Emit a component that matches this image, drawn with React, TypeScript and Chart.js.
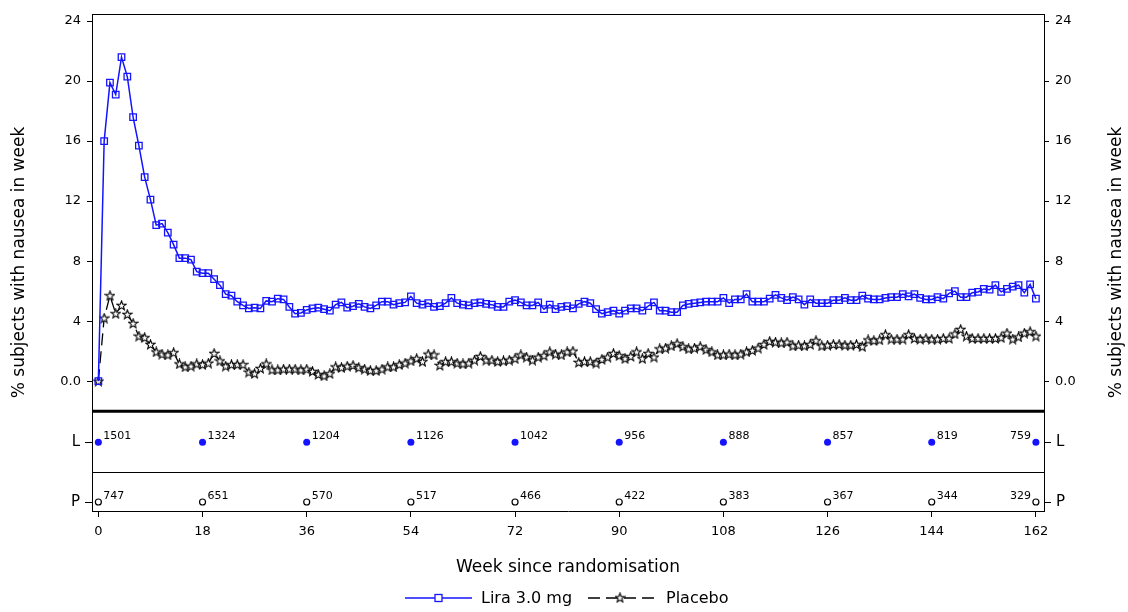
import React, { useEffect, useRef } from 'react';
import { Chart, registerables } from 'chart.js';

Chart.register(...registerables);

// ---- data ----
const liraPct = [
  0, 16.0, 19.9, 19.1, 21.6, 20.3, 17.6, 15.7, 13.6, 12.1,
  10.4, 10.5, 9.9, 9.1, 8.2, 8.2, 8.1, 7.3, 7.2, 7.2,
  6.8, 6.4, 5.8, 5.7, 5.3, 5.05, 4.85, 4.9, 4.85, 5.35,
  5.3, 5.5, 5.45, 4.95, 4.5, 4.55, 4.75, 4.85, 4.9, 4.8,
  4.7, 5.1, 5.25, 4.9, 5.0, 5.15, 4.95, 4.85, 5.05, 5.3,
  5.3, 5.1, 5.2, 5.25, 5.65, 5.2, 5.1, 5.2, 4.95, 5.0,
  5.2, 5.55, 5.2, 5.1, 5.05, 5.2, 5.25, 5.15, 5.1, 4.95,
  4.95, 5.3, 5.4, 5.25, 5.05, 5.05, 5.25, 4.8, 5.1, 4.8,
  4.95, 5.0, 4.85, 5.15, 5.3, 5.2, 4.8, 4.5, 4.6, 4.7,
  4.5, 4.7, 4.85, 4.85, 4.7, 5.0, 5.25, 4.7, 4.7, 4.6,
  4.6, 5.05, 5.15, 5.2, 5.25, 5.3, 5.3, 5.3, 5.55, 5.2,
  5.45, 5.45, 5.8, 5.3, 5.3, 5.3, 5.5, 5.75, 5.55, 5.4,
  5.6, 5.45, 5.1, 5.45, 5.2, 5.2, 5.2, 5.4, 5.4, 5.55,
  5.4, 5.4, 5.7, 5.5, 5.45, 5.45, 5.55, 5.6, 5.6, 5.8,
  5.65, 5.8, 5.55, 5.45, 5.45, 5.6, 5.5, 5.85, 6.0, 5.6,
  5.6, 5.9, 5.95, 6.15, 6.1, 6.4, 5.95, 6.15, 6.3, 6.4,
  5.9, 6.45, 5.5,
];

const placeboPct = [
  0, 4.2, 5.7, 4.5, 5.05, 4.45, 3.85, 3.0, 2.9, 2.45,
  1.95, 1.8, 1.75, 1.9, 1.15, 0.95, 1.0, 1.15, 1.1, 1.2,
  1.85, 1.35, 1.0, 1.1, 1.1, 1.1, 0.6, 0.5, 0.85, 1.15,
  0.75, 0.75, 0.8, 0.8, 0.8, 0.75, 0.8, 0.65, 0.45, 0.35,
  0.5, 0.95, 0.9, 1.0, 1.05, 0.9, 0.8, 0.7, 0.7, 0.8,
  0.95, 0.95, 1.1, 1.2, 1.35, 1.5, 1.3, 1.8, 1.75, 1.05,
  1.3, 1.3, 1.2, 1.15, 1.2, 1.4, 1.65, 1.4, 1.4, 1.3,
  1.35, 1.4, 1.5, 1.75, 1.6, 1.4, 1.6, 1.7, 1.95, 1.8,
  1.75, 1.95, 2.0, 1.25, 1.3, 1.3, 1.2, 1.45, 1.6, 1.85,
  1.7, 1.5, 1.65, 1.95, 1.5, 1.85, 1.6, 2.15, 2.2, 2.35,
  2.5, 2.3, 2.15, 2.2, 2.3, 2.1, 1.95, 1.75, 1.75, 1.8,
  1.75, 1.8, 1.95, 2.05, 2.2, 2.45, 2.65, 2.6, 2.55, 2.6,
  2.35, 2.4, 2.35, 2.45, 2.7, 2.35, 2.4, 2.45, 2.45, 2.4,
  2.4, 2.45, 2.3, 2.75, 2.7, 2.75, 3.1, 2.8, 2.8, 2.8,
  3.1, 2.85, 2.8, 2.85, 2.8, 2.8, 2.85, 2.85, 3.15, 3.45,
  3.0, 2.85, 2.85, 2.85, 2.85, 2.85, 2.9, 3.2, 2.8, 2.95,
  3.2, 3.3, 3.0,
];

const riskWeeks = [0, 18, 36, 54, 72, 90, 108, 126, 144, 162];
const liraAtRisk = [1501, 1324, 1204, 1126, 1042, 956, 888, 857, 819, 759];
const placeboAtRisk = [747, 651, 570, 517, 466, 422, 383, 367, 344, 329];
const xTickValues = [0, 18, 36, 54, 72, 90, 108, 126, 144, 162];
const yTickValues = [0, 4, 8, 12, 16, 20, 24];
const seriesNames = ['Lira 3.0 mg', 'Placebo'];
const riskRowLabels = ['L', 'P'];
const xTitle = 'Week since randomisation';
const yTitle = '% subjects with nausea in week';

// ---- style constants ----
const FONT = "'DejaVu Sans', sans-serif";
const BLUE = 'rgb(20,20,255)';
const BLACK = '#000';
const ROW_L = 69;
const ROW_P = 9;
const ROW_SEP = 39;

function makeStar(): HTMLCanvasElement {
  const c = document.createElement('canvas');
  c.width = 11;
  c.height = 11;
  const ctx = c.getContext('2d')!;
  const cx = 5.5, cy = 5.8, ro = 4.8, ri = 2.0;
  ctx.beginPath();
  for (let k = 0; k < 10; k++) {
    const r = k % 2 === 0 ? ro : ri;
    const a = -Math.PI / 2 + (k * Math.PI) / 5;
    const px = cx + r * Math.cos(a);
    const py = cy + r * Math.sin(a);
    if (k === 0) ctx.moveTo(px, py);
    else ctx.lineTo(px, py);
  }
  ctx.closePath();
  ctx.fillStyle = '#fff';
  ctx.fill();
  ctx.strokeStyle = BLACK;
  ctx.lineWidth = 1.1;
  ctx.stroke();
  return c;
}

export default function App() {
  const ref = useRef<HTMLCanvasElement>(null);

  useEffect(() => {
    const canvas = ref.current!;
    const star = makeStar();

    const decor = {
      id: 'decor',
      afterDraw(chart: any) {
        const ctx = chart.ctx as CanvasRenderingContext2D;
        const { left, right, top, bottom } = chart.chartArea;
        const sY = chart.scales.y;
        const sR = chart.scales.yRisk;
        const sX = chart.scales.x;
        ctx.save();
        ctx.strokeStyle = '#000';
        ctx.lineWidth = 1;
        ctx.beginPath();
        ctx.moveTo(left, top + 0.5);
        ctx.lineTo(right, top + 0.5);
        ctx.stroke();
        ctx.lineWidth = 3;
        ctx.beginPath();
        ctx.moveTo(left, sY.bottom);
        ctx.lineTo(right, sY.bottom);
        ctx.stroke();
        ctx.lineWidth = 1;
        const ySep = Math.round(sR.getPixelForValue(ROW_SEP)) + 0.5;
        ctx.beginPath();
        ctx.moveTo(left, ySep);
        ctx.lineTo(right, ySep);
        ctx.stroke();

        ctx.fillStyle = '#000';
        ctx.font = `11px ${FONT}`;
        ctx.textBaseline = 'alphabetic';
        const rows = [
          { vals: liraAtRisk, row: ROW_L },
          { vals: placeboAtRisk, row: ROW_P },
        ];
        rows.forEach(({ vals, row }) => {
          const py = sR.getPixelForValue(row);
          riskWeeks.forEach((w, i) => {
            const px = sX.getPixelForValue(w);
            const last = i === riskWeeks.length - 1;
            ctx.textAlign = last ? 'right' : 'left';
            ctx.fillText(String(vals[i]), last ? px - 5 : px + 5, py - 3);
          });
        });

        ctx.font = `17px ${FONT}`;
        ctx.textAlign = 'center';
        ctx.textBaseline = 'middle';
        const midY = (top + bottom) / 2;
        [20, 1117].forEach((tx) => {
          ctx.save();
          ctx.translate(tx, midY);
          ctx.rotate(-Math.PI / 2);
          ctx.fillText(yTitle, 0, 0);
          ctx.restore();
        });
        ctx.fillText(xTitle, (left + right) / 2, 568);

        const ly = 598;
        ctx.font = `16px ${FONT}`;
        ctx.textAlign = 'left';
        ctx.textBaseline = 'middle';
        ctx.strokeStyle = BLUE;
        ctx.lineWidth = 1.5;
        ctx.beginPath();
        ctx.moveTo(405, ly);
        ctx.lineTo(472, ly);
        ctx.stroke();
        ctx.fillStyle = '#fff';
        ctx.fillRect(435, ly - 3.5, 7, 7);
        ctx.lineWidth = 1.3;
        ctx.strokeRect(435, ly - 3.5, 7, 7);
        ctx.fillStyle = '#000';
        ctx.fillText(seriesNames[0], 481, ly + 1);
        ctx.strokeStyle = BLACK;
        ctx.lineWidth = 1.3;
        ctx.setLineDash([12, 6]);
        ctx.beginPath();
        ctx.moveTo(588, ly);
        ctx.lineTo(655, ly);
        ctx.stroke();
        ctx.setLineDash([]);
        ctx.drawImage(star, 620 - 5.5, ly - 5.8);
        ctx.fillStyle = '#000';
        ctx.fillText(seriesNames[1], 666, ly + 1);
        ctx.restore();
      },
    };

    const mainY = (position: 'left' | 'right', weight: number, width: number) => ({
      type: 'linear' as const,
      position,
      stack: position,
      stackWeight: 398,
      weight,
      min: -2,
      max: 24.47,
      afterBuildTicks: (s: any) => {
        s.ticks = yTickValues.map((v) => ({ value: v }));
      },
      afterFit: (s: any) => {
        s.width = width;
      },
      ticks: {
        color: '#000',
        font: { family: FONT, size: 13 },
        padding: 6,
        callback: (v: any) => (v === 0 ? '0.0' : String(v)),
      },
      grid: { drawOnChartArea: false, drawTicks: true, tickLength: 5, color: '#000' },
      border: { color: '#000', width: 1 },
    });

    const riskY = (position: 'left' | 'right', weight: number, width: number) => ({
      type: 'linear' as const,
      position,
      stack: position,
      stackWeight: 100,
      weight,
      min: 0,
      max: 100,
      afterBuildTicks: (s: any) => {
        s.ticks = [{ value: ROW_L }, { value: ROW_P }];
      },
      afterFit: (s: any) => {
        s.width = width;
      },
      ticks: {
        color: '#000',
        font: { family: FONT, size: 15 },
        padding: 5,
        callback: (v: any) => (v === ROW_L ? riskRowLabels[0] : riskRowLabels[1]),
      },
      grid: { drawOnChartArea: false, drawTicks: true, tickLength: 7, color: '#000' },
      border: { color: '#000', width: 1 },
    });

    const chart = new Chart(canvas, {
      type: 'line',
      data: {
        datasets: [
          {
            label: seriesNames[0],
            data: liraPct.map((v, i) => ({ x: i, y: v })),
            xAxisID: 'x',
            yAxisID: 'y',
            borderColor: BLUE,
            borderWidth: 1.5,
            pointStyle: 'rect',
            pointRadius: 4.6,
            pointBorderColor: BLUE,
            pointBackgroundColor: 'rgba(255,255,255,0)',
            pointBorderWidth: 1.3,
            tension: 0,
          },
          {
            label: seriesNames[1],
            data: placeboPct.map((v, i) => ({ x: i, y: v })),
            xAxisID: 'x',
            yAxisID: 'y',
            borderColor: BLACK,
            borderWidth: 1.3,
            borderDash: [12, 6],
            pointStyle: star as any,
            pointRadius: 5,
            tension: 0,
          },
          {
            label: 'L at risk',
            data: riskWeeks.map((w) => ({ x: w, y: ROW_L })),
            xAxisID: 'x',
            yAxisID: 'yRisk',
            showLine: false,
            pointStyle: 'circle',
            pointRadius: 3.5,
            pointBackgroundColor: BLUE,
            pointBorderColor: BLUE,
            pointBorderWidth: 0,
          },
          {
            label: 'P at risk',
            data: riskWeeks.map((w) => ({ x: w, y: ROW_P })),
            xAxisID: 'x',
            yAxisID: 'yRisk',
            showLine: false,
            pointStyle: 'circle',
            pointRadius: 3,
            pointBackgroundColor: '#fff',
            pointBorderColor: '#000',
            pointBorderWidth: 1.2,
          },
        ],
      },
      options: {
        responsive: false,
        animation: false,
        devicePixelRatio: 1,
        layout: { padding: { top: 13, left: 0, right: 0, bottom: 0 } },
        plugins: {
          legend: { display: false },
          tooltip: { enabled: false },
          title: { display: false },
        },
        scales: {
          x: {
            type: 'linear',
            position: 'bottom',
            min: -1.1,
            max: 163.4,
            afterBuildTicks: (s: any) => {
              s.ticks = xTickValues.map((v) => ({ value: v }));
            },
            afterFit: (s: any) => {
              s.height = 101;
            },
            ticks: {
              color: '#000',
              font: { family: FONT, size: 13 },
              padding: 7,
              maxRotation: 0,
            },
            grid: { drawOnChartArea: false, drawTicks: true, tickLength: 6, color: '#000' },
            border: { color: '#000', width: 1 },
          },
          y: mainY('left', 1, 92),
          yRisk: riskY('left', 0, 92),
          y2: mainY('right', 0, 84),
          yRisk2: riskY('right', 1, 84),
        } as any,
      },
      plugins: [decor],
    });

    return () => chart.destroy();
  }, []);

  return (
    <div style={{ position: 'absolute', left: 0, top: 0, width: 1128, height: 612, background: '#fff' }}>
      <canvas ref={ref} width={1128} height={612} style={{ display: 'block', width: 1128, height: 612 }} />
    </div>
  );
}
